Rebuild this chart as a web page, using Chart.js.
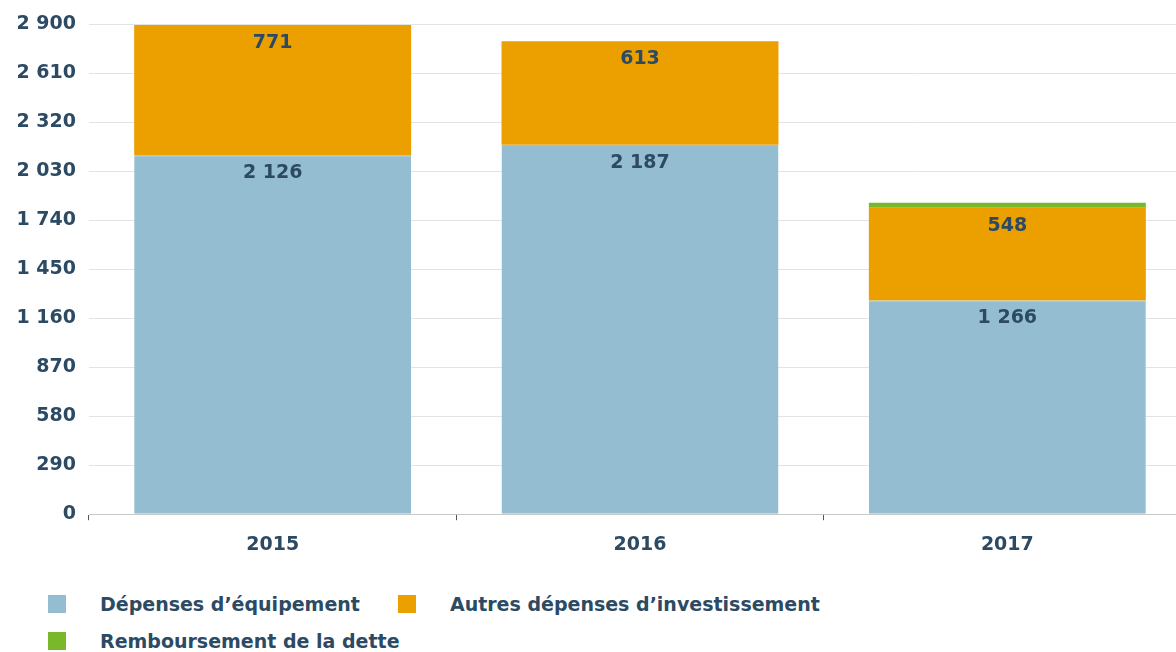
<!DOCTYPE html>
<html>
<head>
<meta charset="utf-8">
<script src="https://cdn.jsdelivr.net/npm/chart.js@4"></script>
<style>
  body { margin: 0; background: #fff; font-family: "DejaVu Sans", sans-serif; overflow: hidden; }
  #wrap { position: relative; width: 1191px; height: 569px; }
  #legend { position: absolute; left: 48px; top: 585px; width: 860px; display: flex; flex-wrap: wrap; }
  .item { display: flex; align-items: center; height: 37px; margin-right: 38px; color: #2c4a63; font-weight: bold; font-size: 19px; }
  .box { width: 18px; height: 18px; margin-right: 34px; }
</style>
</head>
<body>
<div id="wrap"><canvas id="chart"></canvas></div>
<div id="legend"></div>
<script>
// data
const years = ['2015', '2016', '2017'];
const equipement = [2126, 2187, 1266];
const autres = [771, 613, 548];
const dette = [0, 0, 30];
const yTicks = [0, 290, 580, 870, 1160, 1450, 1740, 2030, 2320, 2610, 2900];

const textColor = '#2c4a63';

function fmt(v) {
    return String(v).replace(/\B(?=(\d{3})+(?!\d))/g, ' ');
}

// labels near the top of each segment
const segmentLabels = {
    id: 'segmentLabels',
    afterDatasetsDraw(chart) {
        const ctx = chart.ctx;
        ctx.save();
        ctx.font = 'bold 19px "DejaVu Sans"';
        ctx.fillStyle = textColor;
        ctx.textAlign = 'center';
        ctx.textBaseline = 'middle';
        chart.data.datasets.forEach((ds, i) => {
            if (ds.noLabel) return;
            chart.getDatasetMeta(i).data.forEach((bar, j) => {
                const v = ds.data[j];
                if (!v) return;
                ctx.fillText(fmt(v), bar.x, bar.y + 18);
            });
        });
        ctx.restore();
    }
};

const ctx = document.getElementById('chart').getContext('2d');
const chart = new Chart(ctx, {
    type: 'bar',
    data: {
        labels: years,
        datasets: [{
            label: 'Dépenses d\u2019équipement',
            data: equipement,
            backgroundColor: '#95bdd2',
            borderColor: '#86b2c8',
            borderWidth: { top: 1, left: 0, right: 0, bottom: 0 }
        }, {
            label: 'Autres dépenses d\u2019investissement',
            data: autres,
            backgroundColor: '#eba000',
            borderWidth: 0
        }, {
            label: 'Remboursement de la dette',
            data: dette,
            backgroundColor: '#78b82a',
            borderWidth: 0,
            noLabel: true
        }]
    },
    options: {
        responsive: true,
        maintainAspectRatio: false,
        animation: false,
        layout: { padding: { top: 5, right: 0, left: 0, bottom: 0 } },
        datasets: { bar: { categoryPercentage: 1, barPercentage: 0.754 } },
        scales: {
            x: {
                stacked: true,
                border: { display: true, color: '#c8c8c8', width: 1 },
                grid: { display: true, drawOnChartArea: false, tickLength: 6, color: '#555', offset: true },
                ticks: {
                    color: textColor,
                    font: { family: 'DejaVu Sans', weight: 'bold', size: 19 },
                    padding: 13
                }
            },
            y: {
                stacked: true,
                min: 0,
                max: 2900,
                afterBuildTicks(axis) {
                    axis.ticks = yTicks.map(v => ({ value: v }));
                },
                afterFit(axis) {
                    axis.width = 89;
                },
                border: { display: false },
                grid: { color: '#e3e3e3', drawTicks: false },
                ticks: {
                    color: textColor,
                    font: { family: 'DejaVu Sans', weight: 'bold', size: 19 },
                    padding: 13,
                    callback: v => fmt(v)
                }
            }
        },
        plugins: {
            legend: { display: false },
            tooltip: { enabled: false }
        }
    },
    plugins: [segmentLabels]
});

// legend under the chart
const legend = document.getElementById('legend');
chart.data.datasets.forEach(ds => {
    const item = document.createElement('div');
    item.className = 'item';
    const box = document.createElement('span');
    box.className = 'box';
    box.style.background = ds.backgroundColor;
    item.appendChild(box);
    item.appendChild(document.createTextNode(ds.label));
    legend.appendChild(item);
});
</script>
</body>
</html>
